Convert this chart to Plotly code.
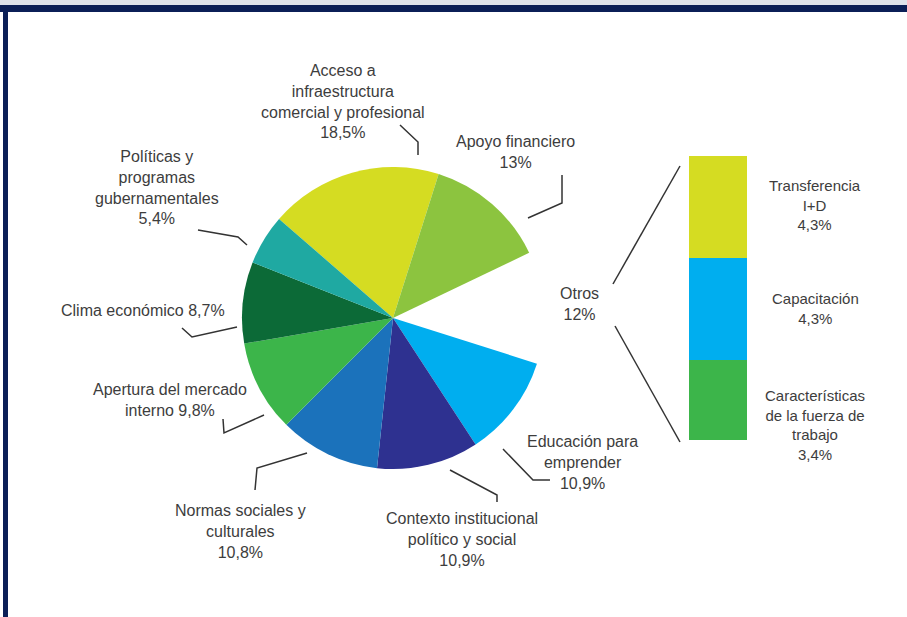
import plotly.graph_objects as go

W, H = 907, 617

# Factores del entorno emprendedor (porcentaje del total)
factores = [
    "Acceso a infraestructura comercial y profesional",
    "Apoyo financiero",
    "Otros",
    "Educación para emprender",
    "Contexto institucional político y social",
    "Normas sociales y culturales",
    "Apertura del mercado interno",
    "Clima económico",
    "Políticas y programas gubernamentales",
]
porcentajes = [18.5, 13.0, 12.0, 10.9, 10.9, 10.8, 9.8, 8.7, 5.4]
colores_pie = ["#d5dc22", "#8cc43f", "rgba(0,0,0,0)", "#00aeef", "#2e3190",
               "#1b72bb", "#3cb54a", "#0c6a37", "#1fa9a2"]

# Desglose de "Otros" (de abajo hacia arriba)
otros_cat = ["Características de la fuerza de trabajo", "Capacitación", "Transferencia I+D"]
otros_val = [3.4, 4.3, 4.3]
otros_col = ["#3cb54a", "#00aeef", "#d5dc22"]


def fx(x):
    return x / W


def fy(y):
    return 1 - y / H


fig = go.Figure()

fig.add_trace(go.Pie(
    labels=factores,
    values=porcentajes,
    sort=False,
    direction="clockwise",
    rotation=-49,
    textinfo="none",
    hoverinfo="label+value",
    marker=dict(colors=colores_pie, line=dict(width=0)),
    domain=dict(x=[fx(242), fx(544)], y=[fy(469), fy(167)]),
    showlegend=False,
))

for cat, val, col in zip(otros_cat, otros_val, otros_col):
    fig.add_trace(go.Bar(
        x=[0], y=[val], name=cat, marker=dict(color=col, line=dict(width=0)),
        width=1, xaxis="x2", yaxis="y2", showlegend=False,
    ))

txt = dict(family="Liberation Sans, Arial, sans-serif", size=16, color="#3d3d3d")
txt_s = dict(family="Liberation Sans, Arial, sans-serif", size=15, color="#3d3d3d")

etiquetas = [
    ("Acceso a<br>infraestructura<br>comercial y profesional<br>18,5%", 343, 102, txt),
    ("Apoyo financiero<br>13%", 515, 152, txt),
    ("Políticas y<br>programas<br>gubernamentales<br>5,4%", 157, 187, txt),
    ("Clima económico 8,7%", 143, 310, txt),
    ("Apertura del mercado<br>interno 9,8%", 170, 400, txt),
    ("Normas sociales y<br>culturales<br>10,8%", 240, 531, txt),
    ("Contexto institucional<br>político y social<br>10,9%", 462, 539, txt),
    ("Educación para<br>emprender<br>10,9%", 582, 462, txt),
    ("Otros<br>12%", 579, 304, txt),
    ("Transferencia<br>I+D<br>4,3%", 815, 205, txt_s),
    ("Capacitación<br>4,3%", 815, 308, txt_s),
    ("Características<br>de la fuerza de<br>trabajo<br>3,4%", 815, 425, txt_s),
]
annotations = [
    dict(text=t, x=fx(x), y=fy(y), xref="paper", yref="paper", showarrow=False,
         font=f, align="center", xanchor="center", yanchor="middle")
    for t, x, y, f in etiquetas
]

# Líneas guía de las etiquetas
guias = [
    [(400, 125), (418, 142), (418, 155)],
    [(562, 175), (562, 203), (528, 218)],
    [(198, 230), (238, 237), (247, 245)],
    [(182, 328), (192, 337), (237, 327)],
    [(223, 419), (224, 433), (264, 415)],
    [(255, 490), (257, 468), (307, 453)],
    [(450, 470), (497, 495), (497, 502)],
    [(503, 449), (533, 480), (550, 480)],
    [(613, 284), (680, 166)],
    [(615, 326), (680, 442)],
]
shapes = []
for pts in guias:
    path = "M " + " L ".join(f"{fx(x):.5f},{fy(y):.5f}" for x, y in pts)
    shapes.append(dict(type="path", path=path, xref="paper", yref="paper",
                       line=dict(color="#333333", width=1.5)))

# Marco superior e izquierdo
shapes += [
    dict(type="rect", xref="paper", yref="paper", x0=0, x1=1, y0=fy(5), y1=1,
         fillcolor="#dfe3ec", line=dict(width=0), layer="above"),
    dict(type="rect", xref="paper", yref="paper", x0=0, x1=1, y0=fy(12), y1=fy(5),
         fillcolor="#0b1f57", line=dict(width=0), layer="above"),
    dict(type="rect", xref="paper", yref="paper", x0=fx(3), x1=fx(8), y0=0, y1=fy(5),
         fillcolor="#0b1f57", line=dict(width=0), layer="above"),
]

fig.update_layout(
    width=W, height=H,
    margin=dict(l=0, r=0, t=0, b=0),
    paper_bgcolor="white", plot_bgcolor="white",
    barmode="stack", bargap=0,
    xaxis2=dict(domain=[fx(689), fx(747)], range=[-0.5, 0.5], visible=False, fixedrange=True),
    yaxis2=dict(domain=[fy(440), fy(156)], range=[0, sum(otros_val)], visible=False, fixedrange=True),
    xaxis=dict(visible=False), yaxis=dict(visible=False),
    annotations=annotations,
    shapes=shapes,
)

fig.write_html("out.html")
